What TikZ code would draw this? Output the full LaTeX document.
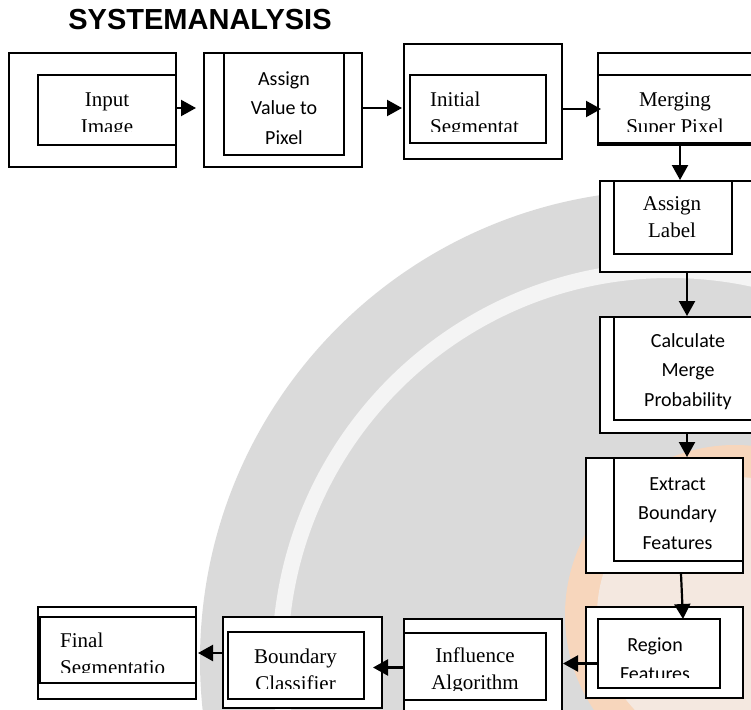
\documentclass[tikz,border=0pt]{standalone}
\usepackage{fontspec}
\setmainfont{Liberation Serif}
\newfontfamily\calibrifont{Carlito}
\newfontfamily\arialfont{Liberation Sans}
\usetikzlibrary{arrows.meta}
\definecolor{sealgray}{RGB}{218,218,218}
\definecolor{sealring}{RGB}{244,244,244}
\definecolor{sealorange}{RGB}{247,214,188}
\definecolor{sealpink}{RGB}{244,232,224}

\begin{document}
\begin{tikzpicture}[x=1pt,y=-1pt,
    box/.style={draw,fill=white,line width=2pt,inner sep=0pt},
    serif/.style={font=\fontsize{21}{27}\selectfont,align=center,anchor=base,inner sep=0pt},
    sans/.style={font=\calibrifont\fontsize{20}{29.5}\selectfont,align=center,anchor=base,inner sep=0pt},
    flow/.style={line width=2.2pt,-{Triangle[length=15pt,width=16pt]}}]
  \useasboundingbox (0,0) rectangle (751,709);
  \clip (0,0) rectangle (751,709);
  % watermark
  \fill[sealgray] (670,660) circle[radius=470];
  \draw[sealring,line width=16pt] (670,660) circle[radius=390];
  \fill[sealorange] (735,615) circle[radius=170];
  \fill[sealpink] (735,615) circle[radius=138];
  % title
  \node[font=\arialfont\bfseries\fontsize{29}{34}\selectfont] (title) at (200,20) {SYSTEMANALYSIS};
  % outer boxes
  \node[box,minimum width=167pt,minimum height=114pt] (out1) at (92.5,110) {};
  \node[box,minimum width=158pt,minimum height=114pt] (out2) at (283,110) {};
  \node[box,minimum width=158pt,minimum height=115pt] (out3) at (483,101.5) {};
  \node[box,minimum width=164pt,minimum height=92pt] (out4) at (680,99) {};
  \node[box,minimum width=174pt,minimum height=91pt] (out5) at (687,226.5) {};
  \node[box,minimum width=174pt,minimum height=116pt] (out6) at (687,375) {};
  \node[box,minimum width=157pt,minimum height=115pt] (out7) at (664.5,515.5) {};
  \node[box,minimum width=157pt,minimum height=91pt] (out8) at (664.5,652.5) {};
  \node[box,minimum width=158pt,minimum height=101pt] (out9) at (483,669.5) {};
  \node[box,minimum width=159pt,minimum height=91pt] (out10) at (302.5,662.5) {};
  \node[box,minimum width=158pt,minimum height=92pt] (out11) at (117,653) {};
  % inner boxes
  \node[box,minimum width=138pt,minimum height=70pt] (in1) at (107,110) {};
  \node[box,minimum width=120pt,minimum height=102pt] (in2) at (284,104) {};
  \node[box,minimum width=136pt,minimum height=68pt] (in3) at (478,109) {};
  \node[box,minimum width=172pt,minimum height=68pt] (in4) at (684,109) {};
  \node[box,minimum width=118pt,minimum height=73pt] (in5) at (673,217.5) {};
  \node[box,minimum width=156pt,minimum height=103pt] (in6) at (692,368.5) {};
  \node[box,minimum width=129pt,minimum height=103pt] (in7) at (678.5,509.5) {};
  \node[box,minimum width=122pt,minimum height=69pt] (in8) at (659,653.5) {};
  \node[box,minimum width=142pt,minimum height=67pt] (in9) at (475,666.5) {};
  \node[box,minimum width=136pt,minimum height=67pt] (in10) at (296,665.5) {};
  \node[box,minimum width=156pt,minimum height=66pt] (in11) at (118,650) {};
  % labels (base = last line)
  \node[serif] (t1) at (107,133) {Input\\Image};
  \node[sans] (t2) at (284,144) {Assign\\Value to\\Pixel};
  \node[serif,align=left,anchor=base west] (t3) at (430,133) {Initial\\Segmentat};
  \node[serif] (t4) at (675,133) {Merging\\Super Pixel};
  \node[serif] (t5) at (672,237) {Assign\\Label};
  \node[sans] (t6) at (688,406) {Calculate\\Merge\\Probability};
  \node[sans] (t7) at (677.5,549) {Extract\\Boundary\\Features};
  \node[sans] (t8) at (655,680.5) {Region\\Features};
  \node[serif] (t9) at (475,689) {Influence\\Algorithm};
  \node[serif] (t10) at (295.5,690) {Boundary\\Classifier};
  \node[serif,align=left,anchor=base west] (t11) at (60,674) {Final\\Segmentatio};
  % text cut off at the box bottom
  \fill[white] (39,132) rectangle (175,144);
  \fill[white] (411,132) rectangle (545,142);
  \fill[white] (599,132) rectangle (751,142);
  \fill[white] (599,678) rectangle (719,687);
  \fill[white] (405,691) rectangle (545,699);
  \fill[white] (229,689) rectangle (363,698);
  \fill[white] (41,673) rectangle (195,682);
  % arrows
  \begin{scope}[flow]
    \draw ([yshift=2pt]out1.east) -- ([yshift=2pt,xshift=-7pt]out2.west);
    \draw ([yshift=2pt]out2.east) -- ([yshift=2pt,xshift=-1pt]out2.east -| out3.west);
    \draw (out3.east |- in3.east) -- ([xshift=4pt]in3.east -| out4.west);
    \draw (out4.south) -- (out4.south |- out5.north);
    \draw (out5.south) -- (out5.south |- out6.north);
    \draw (out6.south) -- (out6.south |- out7.north);
    \draw ([xshift=16.5pt]out7.south) -- ([xshift=24pt,yshift=-1pt]in8.north);
    \draw ([yshift=-10pt]in8.west) -- ([yshift=-10pt]in8.west -| out9.east);
    \draw ([yshift=2pt]out9.west) -- ([yshift=2pt,xshift=8pt]out9.west -| in10.east);
    \draw ([yshift=9.5pt]out10.west) -- ([yshift=9.5pt,xshift=1pt]out10.west -| out11.east);
  \end{scope}
\end{tikzpicture}
\end{document}
